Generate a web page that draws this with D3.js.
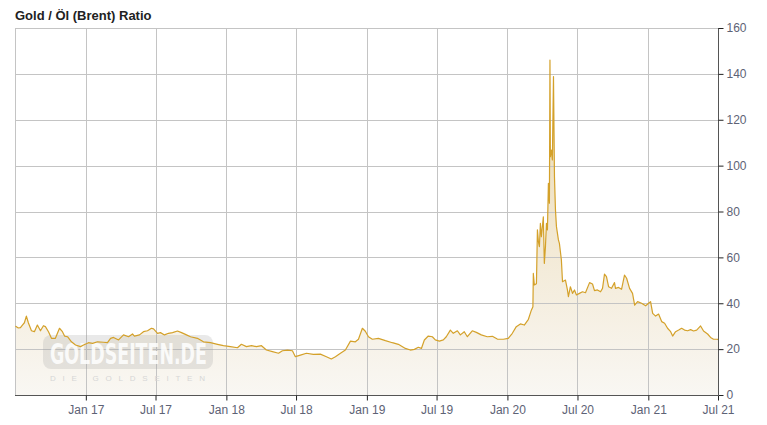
<!DOCTYPE html>
<html>
<head>
<meta charset="utf-8">
<script src="https://cdn.jsdelivr.net/npm/d3@7"></script>
<style>
  html, body { margin: 0; padding: 0; background: #ffffff; }
  svg { display: block; }
</style>
</head>
<body>
<svg id="chart" width="767" height="425"></svg>
<script>
// ---- data (time as decimal year, Gold/Brent ratio) ----
const years = [
  2016.500, 2016.507, 2016.521, 2016.536, 2016.550, 2016.564, 2016.578, 2016.592, 2016.614, 2016.635,
  2016.656, 2016.678, 2016.699, 2016.713, 2016.735, 2016.756, 2016.784, 2016.813, 2016.834, 2016.849,
  2016.870, 2016.898, 2016.927, 2016.962, 2016.984, 2017.019, 2017.048, 2017.083, 2017.126, 2017.154,
  2017.176, 2017.197, 2017.233, 2017.268, 2017.304, 2017.332, 2017.346, 2017.382, 2017.410, 2017.439,
  2017.467, 2017.482, 2017.510, 2017.531, 2017.560, 2017.588, 2017.617, 2017.652, 2017.681, 2017.716,
  2017.745, 2017.794, 2017.837, 2017.887, 2017.937, 2017.979, 2018.029, 2018.079, 2018.107, 2018.143,
  2018.179, 2018.214, 2018.250, 2018.285, 2018.328, 2018.371, 2018.399, 2018.435, 2018.470, 2018.491,
  2018.527, 2018.570, 2018.619, 2018.669, 2018.712, 2018.747, 2018.776, 2018.812, 2018.847, 2018.883,
  2018.918, 2018.940, 2018.968, 2018.989, 2019.011, 2019.039, 2019.082, 2019.132, 2019.181, 2019.224,
  2019.274, 2019.309, 2019.338, 2019.366, 2019.388, 2019.409, 2019.437, 2019.466, 2019.487, 2019.516,
  2019.544, 2019.565, 2019.594, 2019.615, 2019.644, 2019.665, 2019.693, 2019.715, 2019.750, 2019.779,
  2019.814, 2019.857, 2019.893, 2019.928, 2019.971, 2020.006, 2020.035, 2020.063, 2020.092, 2020.120,
  2020.149, 2020.170, 2020.181, 2020.184, 2020.191, 2020.206, 2020.213, 2020.220, 2020.227, 2020.234,
  2020.241, 2020.255, 2020.262, 2020.270, 2020.277, 2020.284, 2020.291, 2020.298, 2020.302, 2020.305,
  2020.312, 2020.319, 2020.327, 2020.334, 2020.341, 2020.348, 2020.362, 2020.369, 2020.383, 2020.391,
  2020.412, 2020.426, 2020.433, 2020.447, 2020.462, 2020.476, 2020.490, 2020.511, 2020.533, 2020.554,
  2020.583, 2020.604, 2020.618, 2020.639, 2020.661, 2020.675, 2020.689, 2020.703, 2020.718, 2020.739,
  2020.760, 2020.767, 2020.789, 2020.810, 2020.831, 2020.846, 2020.867, 2020.888, 2020.903, 2020.924,
  2020.952, 2020.981, 2021.002, 2021.016, 2021.031, 2021.052, 2021.073, 2021.095, 2021.116, 2021.137,
  2021.159, 2021.173, 2021.194, 2021.216, 2021.237, 2021.258, 2021.280, 2021.301, 2021.322, 2021.344,
  2021.372, 2021.393, 2021.422, 2021.443, 2021.464, 2021.493, 2021.500
];
const ratio = [
  30.0, 29.8, 29.2, 29.4, 30.5, 31.5, 34.4, 31.5, 28.0, 27.6,
  30.5, 28.0, 30.2, 29.8, 27.6, 24.7, 24.7, 29.1, 27.6, 25.7,
  25.4, 23.2, 21.8, 21.1, 21.8, 22.8, 22.5, 23.2, 23.0, 22.8,
  24.7, 25.1, 24.0, 26.2, 25.4, 26.6, 25.7, 26.2, 27.6, 28.0,
  29.1, 28.8, 26.9, 27.2, 26.2, 26.9, 27.2, 27.9, 27.2, 26.2,
  25.4, 24.7, 23.2, 22.8, 22.1, 21.5, 21.1, 20.6, 22.1, 21.1,
  21.5, 21.1, 21.5, 19.6, 18.9, 18.2, 19.3, 19.6, 19.3, 16.7,
  17.4, 18.2, 17.7, 17.8, 16.7, 15.7, 16.7, 18.2, 19.6, 23.5,
  23.2, 24.3, 29.1, 27.8, 25.4, 24.3, 24.7, 23.7, 22.8, 22.1,
  20.3, 19.6, 19.9, 20.8, 20.3, 24.0, 25.7, 25.4, 24.0, 23.5,
  24.0, 25.4, 28.3, 26.9, 28.0, 26.2, 27.6, 25.4, 28.0, 27.3,
  26.2, 25.4, 25.6, 24.4, 24.3, 24.7, 26.9, 29.8, 31.0, 30.5,
  33.0, 37.0, 38.5, 53.0, 48.0, 48.5, 72.0, 66.8, 64.7, 74.8,
  69.0, 77.7, 57.4, 64.7, 74.8, 72.0, 92.3, 83.6, 146.0, 103.9,
  106.8, 102.5, 138.8, 95.2, 80.7, 73.4, 67.6, 66.1, 58.9, 49.4,
  50.1, 45.8, 42.9, 47.2, 44.3, 45.8, 43.6, 44.3, 45.0, 44.6,
  49.0, 48.4, 45.5, 45.8, 45.0, 46.5, 52.7, 51.6, 47.2, 46.5,
  49.0, 46.5, 46.9, 46.1, 52.3, 50.9, 46.5, 44.3, 39.2, 40.7,
  40.0, 38.9, 40.0, 40.7, 35.6, 34.4, 35.3, 32.0, 31.3, 29.1,
  27.6, 25.7, 27.6, 28.3, 29.1, 28.3, 28.0, 28.5, 27.9, 28.3,
  30.1, 27.9, 26.6, 25.1, 24.3, 24.3, 24.0
];
const xTickDates = ["2017-01-01","2017-07-01","2018-01-01","2018-07-01","2019-01-01",
                    "2019-07-01","2020-01-01","2020-07-01","2021-01-01","2021-07-01"];
const yTicks = [0, 20, 40, 60, 80, 100, 120, 140, 160];
const chartTitle = "Gold / Öl (Brent) Ratio";

// ---- helpers ----
function decToDate(t) {
  const yr = Math.floor(t);
  const start = new Date(yr, 0, 1), end = new Date(yr + 1, 0, 1);
  return new Date(start.getTime() + (t - yr) * (end - start));
}
const data = years.map((t, i) => ({ date: decToDate(t), value: ratio[i] }));
const tickDates = xTickDates.map(d => new Date(d + "T00:00:00"));

// ---- layout ----
const pL = 15, pR = 718, pT = 28, pB = 395;
const svg = d3.select("#chart");

const x = d3.scaleTime()
  .domain([new Date(2016, 6, 1), new Date(2021, 6, 1)])
  .range([pL, pR]);
const y = d3.scaleLinear().domain([0, 160]).range([pB, pT]);

// gradient for area
const defs = svg.append("defs");
const grad = defs.append("linearGradient")
  .attr("id", "areaGrad").attr("gradientUnits", "userSpaceOnUse")
  .attr("x1", 0).attr("x2", 0).attr("y1", pT).attr("y2", pB);
grad.append("stop").attr("offset", "0%").attr("stop-color", "#e8d29f");
grad.append("stop").attr("offset", "55%").attr("stop-color", "#f2e8d2");
grad.append("stop").attr("offset", "100%").attr("stop-color", "#f9f7f3");

// title
svg.append("text")
  .attr("x", 15).attr("y", 20)
  .attr("font-family", "Liberation Sans, Arial, sans-serif")
  .attr("font-size", 13).attr("font-weight", "bold")
  .attr("fill", "#222")
  .text(chartTitle);

// area
const area = d3.area()
  .x(d => x(d.date)).y0(y(0)).y1(d => y(d.value));
svg.append("path").datum(data)
  .attr("d", area).attr("fill", "url(#areaGrad)");

// grid
const grid = svg.append("g");
grid.selectAll("line.h").data(yTicks).join("line")
  .attr("x1", pL).attr("x2", pR)
  .attr("y1", d => Math.round(y(d)) + 0.5).attr("y2", d => Math.round(y(d)) + 0.5)
  .attr("stroke", "#c4c4c4").attr("stroke-width", 1);
grid.selectAll("line.v").data(tickDates).join("line")
  .attr("x1", d => Math.round(x(d)) + 0.5).attr("x2", d => Math.round(x(d)) + 0.5)
  .attr("y1", pT).attr("y2", pB)
  .attr("stroke", "#c4c4c4").attr("stroke-width", 1);
grid.append("line")
  .attr("x1", pL + 0.5).attr("x2", pL + 0.5).attr("y1", pT).attr("y2", pB)
  .attr("stroke", "#c4c4c4");

// watermark
const wm = svg.append("g");
wm.append("rect")
  .attr("x", 43).attr("y", 335).attr("width", 170).attr("height", 34)
  .attr("rx", 8).attr("fill", "#9a9a9a").attr("opacity", 0.22);
wm.append("text")
  .attr("x", 50).attr("y", 364)
  .attr("font-family", "Liberation Sans Narrow, DejaVu Sans Condensed, sans-serif")
  .attr("font-size", 29).attr("font-weight", "bold")
  .attr("textLength", 157).attr("lengthAdjust", "spacingAndGlyphs")
  .attr("fill", "#ffffff").attr("opacity", 0.85)
  .text("GOLDSEITEN.DE");
wm.append("text")
  .attr("x", 50).attr("y", 381)
  .attr("font-family", "Liberation Sans, sans-serif")
  .attr("font-size", 8)
  .attr("textLength", 155).attr("lengthAdjust", "spacing")
  .attr("fill", "#d6d6d6")
  .text("DIE GOLDSEITEN");

// line
const line = d3.line().x(d => x(d.date)).y(d => y(d.value));
svg.append("path").datum(data)
  .attr("d", line).attr("fill", "none")
  .attr("stroke", "#d4a12a").attr("stroke-width", 1.2)
  .attr("stroke-linejoin", "round");

// axes
const labelColor = "#5d6275";
const yAxis = d3.axisRight(y).tickValues(yTicks).tickSize(5).tickPadding(3);
const gy = svg.append("g").attr("transform", `translate(${pR + 0.5},0)`).call(yAxis);
gy.select(".domain").attr("stroke", "#555").attr("d", `M0,${pT}V${pB}`);
gy.selectAll(".tick line").attr("stroke", "#222");
gy.selectAll(".tick text")
  .attr("font-family", "Liberation Sans, Arial, sans-serif")
  .attr("font-size", 12).attr("fill", labelColor);

const xAxis = d3.axisBottom(x)
  .tickValues(tickDates)
  .tickFormat(d3.timeFormat("%b %y"))
  .tickSize(5).tickPadding(5);
const gx = svg.append("g").attr("transform", `translate(0,${pB + 0.5})`).call(xAxis);
gx.select(".domain").attr("stroke", "#555").attr("d", `M${pL},0H${pR}`);
gx.selectAll(".tick line").attr("stroke", "#222");
gx.selectAll(".tick text")
  .attr("font-family", "Liberation Sans, Arial, sans-serif")
  .attr("font-size", 12).attr("fill", labelColor);
</script>
</body>
</html>
